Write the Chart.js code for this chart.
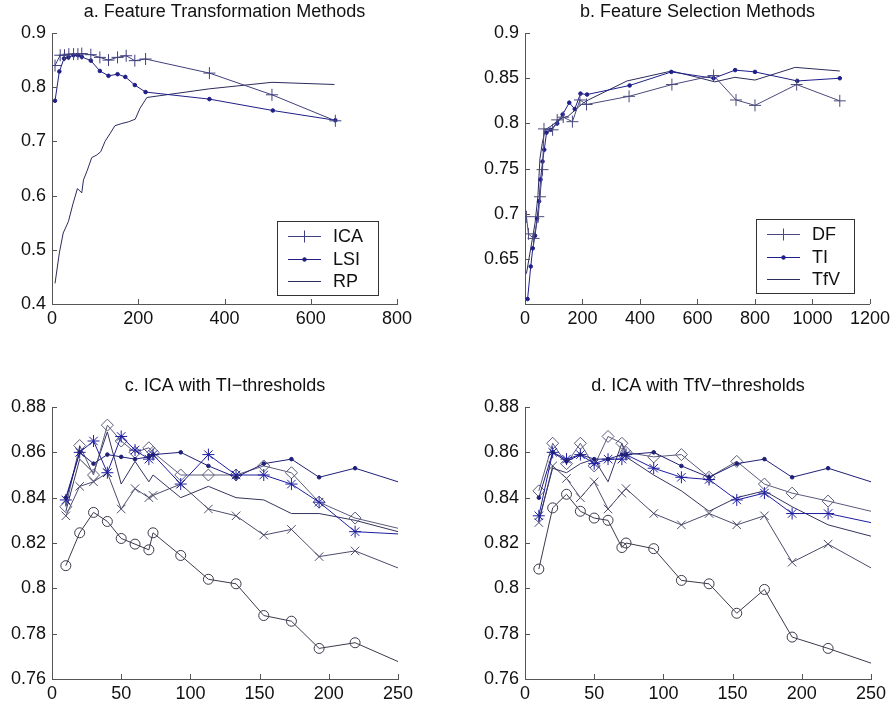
<!DOCTYPE html>
<html lang="en">
<head>
  <meta charset="UTF-8">
  <title>ICA feature experiments</title>
  <script src="https://cdn.jsdelivr.net/npm/chart.js"></script>
</head>
<style>
  body { margin: 0; background: #fff; }
  .wrap { position: relative; width: 894px; height: 711px; }
  canvas { position: absolute; }
</style>
<body>
  <div class="wrap">
    <canvas id="chartA" width="447" height="330" style="left:0;top:0"></canvas>
    <canvas id="chartB" width="447" height="330" style="left:447px;top:0"></canvas>
    <canvas id="chartC" width="447" height="381" style="left:0;top:330px"></canvas>
    <canvas id="chartD" width="447" height="381" style="left:447px;top:330px"></canvas>
  </div>

  <script>
    // a. feature transformation methods
    const icaX = [7, 19, 29, 39, 50, 60, 69, 90, 111, 131, 152, 172, 192, 217, 365, 510, 657];
    const icaY = [0.840, 0.859, 0.859, 0.861, 0.861, 0.861, 0.862, 0.860, 0.855, 0.850, 0.855, 0.858, 0.849, 0.852, 0.826, 0.786, 0.738];
    const lsiX = [7, 17, 28, 38, 50, 60, 69, 90, 111, 131, 152, 170, 192, 217, 365, 512, 657];
    const lsiY = [0.775, 0.829, 0.853, 0.855, 0.859, 0.859, 0.856, 0.849, 0.830, 0.821, 0.824, 0.819, 0.804, 0.791, 0.778, 0.757, 0.739];
    const rpX = [7, 17, 26, 38, 49, 59, 69, 73, 82, 92, 104, 113, 123, 135, 146, 162, 177, 193, 204, 220, 365, 510, 655];
    const rpY = [0.438, 0.494, 0.531, 0.552, 0.586, 0.613, 0.605, 0.629, 0.647, 0.670, 0.675, 0.681, 0.700, 0.715, 0.729, 0.733, 0.736, 0.741, 0.761, 0.781, 0.797, 0.809, 0.805];

    // b. feature selection methods
    const dfX = [5, 12, 30, 46, 52, 61, 66, 96, 112, 133, 165, 191, 214, 362, 511, 656, 734, 800, 945, 1095];
    const dfY = [0.697, 0.678, 0.673, 0.697, 0.719, 0.749, 0.794, 0.793, 0.804, 0.807, 0.802, 0.826, 0.821, 0.830, 0.843, 0.853, 0.826, 0.820, 0.843, 0.825];
    const tiX = [9, 20, 27, 35, 42, 49, 54, 61, 67, 75, 89, 112, 131, 154, 173, 193, 216, 364, 509, 656, 731, 800, 947, 1095];
    const tiY = [0.606, 0.642, 0.662, 0.676, 0.695, 0.714, 0.738, 0.758, 0.771, 0.790, 0.793, 0.800, 0.810, 0.823, 0.816, 0.833, 0.832, 0.842, 0.857, 0.850, 0.859, 0.857, 0.847, 0.850];
    const tfvX = [5, 20, 35, 45, 52, 60, 70, 90, 110, 130, 150, 175, 200, 220, 355, 510, 600, 660, 730, 800, 940, 1095];
    const tfvY = [0.634, 0.662, 0.690, 0.720, 0.761, 0.778, 0.793, 0.797, 0.802, 0.806, 0.808, 0.815, 0.822, 0.826, 0.847, 0.858, 0.851, 0.846, 0.851, 0.848, 0.862, 0.858];

    // c / d. ICA with thresholds (shared x values)
    const thrX = [10, 20, 30, 40, 50, 60, 70, 73, 93, 113, 133, 153, 173, 193, 219, 250];

    const cDot     = [0.840, 0.860, 0.855, 0.859, 0.858, 0.857, 0.858, 0.859, 0.860, 0.854, 0.849, 0.855, 0.857, 0.849, 0.853, 0.847];
    const cDiamond = [0.836, 0.863, 0.850, 0.872, 0.865, 0.860, 0.862, 0.860, 0.850, 0.850, 0.850, 0.854, 0.851, 0.838, 0.831, 0.8265];
    const cStar    = [0.839, 0.860, 0.865, 0.851, 0.867, 0.861, 0.857, 0.859, 0.846, 0.859, 0.850, 0.850, 0.846, 0.838, 0.825, 0.824];
    const cPlain   = [0.834, 0.857, 0.851, 0.869, 0.846, 0.856, 0.847, 0.850, 0.840, 0.845, 0.840, 0.839, 0.833, 0.833, 0.830, 0.825];
    const cCross   = [0.832, 0.845, 0.847, 0.851, 0.835, 0.844, 0.840, 0.841, 0.846, 0.835, 0.832, 0.8235, 0.826, 0.814, 0.8165, 0.809];
    const cCircle  = [0.810, 0.8245, 0.8335, 0.8295, 0.822, 0.8195, 0.817, 0.8245, 0.8145, 0.804, 0.802, 0.788, 0.7855, 0.7735, 0.776, 0.7677];

    const dDot     = [0.840, 0.860, 0.856, 0.859, 0.857, 0.857, 0.859, 0.859, 0.860, 0.854, 0.849, 0.855, 0.857, 0.849, 0.853, 0.847];
    const dDiamond = [0.843, 0.864, 0.855, 0.864, 0.854, 0.867, 0.864, 0.860, 0.858, 0.859, 0.849, 0.856, 0.846, 0.842, 0.8385, 0.834];
    const dStar    = [0.832, 0.860, 0.857, 0.859, 0.855, 0.857, 0.857, 0.859, 0.853, 0.849, 0.848, 0.839, 0.842, 0.833, 0.833, 0.829];
    const dPlain   = [0.830, 0.853, 0.851, 0.855, 0.857, 0.847, 0.864, 0.858, 0.850, 0.843, 0.834, 0.840, 0.843, 0.836, 0.828, 0.823];
    const dCross   = [0.829, 0.854, 0.8485, 0.840, 0.847, 0.835, 0.842, 0.844, 0.833, 0.828, 0.833, 0.828, 0.832, 0.8115, 0.8195, 0.809];
    const dCircle  = [0.8085, 0.8355, 0.8415, 0.834, 0.831, 0.830, 0.818, 0.820, 0.8175, 0.8035, 0.802, 0.789, 0.7995, 0.7785, 0.7735, 0.767];

    const AXIS = '#555';
    const FONT = '"Liberation Sans", Arial, sans-serif';
    Chart.defaults.font.family = FONT;
    Chart.defaults.color = '#111';

    const pts = (xs, ys) => xs.map((x, i) => ({ x: x, y: ys[i] }));

    // matlab style ticks pointing into the axes
    const inTicks = {
      id: 'inTicks',
      afterDraw(chart) {
        const { ctx, chartArea: a, scales: { x, y } } = chart;
        ctx.save();
        ctx.strokeStyle = AXIS;
        ctx.lineWidth = 1;
        ctx.beginPath();
        x.ticks.forEach(t => {
          const px = Math.round(x.getPixelForValue(t.value)) + 0.5;
          ctx.moveTo(px, a.bottom); ctx.lineTo(px, a.bottom - 5);
        });
        y.ticks.forEach(t => {
          const py = Math.round(y.getPixelForValue(t.value)) + 0.5;
          ctx.moveTo(a.left, py); ctx.lineTo(a.left + 5, py);
        });
        ctx.stroke();
        ctx.restore();
      }
    };

    // boxed legend inside the plot
    const boxLegend = {
      id: 'boxLegend',
      afterDatasetsDraw(chart, args, opts) {
        if (!opts.show) return;
        const ctx = chart.ctx;
        const L = opts.left, T = opts.top;
        ctx.save();
        ctx.fillStyle = '#fff';
        ctx.fillRect(L, T, opts.width, opts.height);
        ctx.strokeStyle = '#333';
        ctx.lineWidth = 1;
        ctx.strokeRect(L + 0.5, T + 0.5, opts.width, opts.height);
        chart.data.datasets.forEach((ds, i) => {
          const y = Math.round(T + 15 + i * 22.5) + 0.5;
          ctx.strokeStyle = ds.borderColor;
          ctx.lineWidth = 1;
          ctx.beginPath();
          ctx.moveTo(L + 11, y); ctx.lineTo(L + 44, y);
          ctx.stroke();
          if (ds.markRadius > 0) {
            ctx.fillStyle = ds.pointBackgroundColor;
            Chart.helpers.drawPoint(ctx, { pointStyle: ds.pointStyle, radius: ds.markRadius, rotation: 0, borderWidth: 1 }, L + 27.5, y);
          }
          ctx.fillStyle = '#111';
          ctx.font = '18px ' + FONT;
          ctx.textBaseline = 'middle';
          ctx.fillText(ds.label, L + 56, y + 1);
        });
        ctx.restore();
      }
    };

    function series(label, xs, ys, color, style, r, lastBare) {
      const radii = xs.map((_, i) => (lastBare && i === xs.length - 1) ? 0 : r);
      return {
        label: label,
        data: pts(xs, ys),
        borderColor: color,
        borderWidth: 1,
        pointStyle: style || 'circle',
        pointRadius: radii,
        markRadius: r,
        pointBorderColor: color,
        pointBorderWidth: 1,
        pointBackgroundColor: style === 'circle' && r <= 2 ? color : 'transparent',
        pointHoverRadius: 0,
        tension: 0,
        fill: false
      };
    }

    function makeChart(id, cfg) {
      return new Chart(document.getElementById(id), {
        type: 'line',
        data: { datasets: cfg.datasets },
        plugins: [inTicks, boxLegend],
        options: {
          responsive: false,
          devicePixelRatio: 1,
          animation: false,
          layout: { padding: { left: 0, right: cfg.padRight, top: cfg.padTop, bottom: 0 } },
          plugins: {
            legend: { display: false },
            tooltip: { enabled: false },
            title: {
              display: true,
              text: cfg.title,
              fullSize: false,
              color: '#111',
              font: { size: 18, weight: 'normal', lineHeight: 1.2 },
              padding: { top: 1, bottom: 10.4 }
            },
            boxLegend: cfg.legend || { show: false }
          },
          scales: {
            x: {
              type: 'linear',
              min: cfg.xMin, max: cfg.xMax,
              grid: { display: false, drawTicks: false },
              border: { display: true, color: AXIS, width: 1 },
              ticks: {
                stepSize: cfg.xStep, padding: 4, font: { size: 18 }, color: '#111', maxRotation: 0,
                callback: v => String(v)
              },
              afterFit: s => { s.height = cfg.xAxisH; }
            },
            y: {
              type: 'linear',
              min: cfg.yMin, max: cfg.yMax,
              grid: { display: false, drawTicks: false },
              border: { display: true, color: AXIS, width: 1 },
              ticks: {
                stepSize: cfg.yStep, padding: 6, font: { size: 18 }, color: '#111',
                includeBounds: false,
                callback: v => String(Math.round(v * 1000) / 1000)
              },
              afterFit: s => { s.width = cfg.yAxisW; }
            }
          }
        }
      });
    }

    makeChart('chartA', {
      title: 'a. Feature Transformation Methods',
      padTop: 0, padRight: 50, yAxisW: 52, xAxisH: 26,
      xMin: 0, xMax: 800, xStep: 200, yMin: 0.4, yMax: 0.9, yStep: 0.1,
      legend: { show: true, left: 277, top: 221, width: 101, height: 74 },
      datasets: [
        series('ICA', icaX, icaY, '#3f3f7e', 'cross', 6, false),
        series('LSI', lsiX, lsiY, '#1f1f86', 'circle', 1.8, false),
        series('RP', rpX, rpY, '#2b2b5c', 'circle', 0, false)
      ]
    });

    makeChart('chartB', {
      title: 'b. Feature Selection Methods',
      padTop: 0, padRight: 23, yAxisW: 78, xAxisH: 26,
      xMin: 0, xMax: 1200, xStep: 200, yMin: 0.6005, yMax: 0.9, yStep: 0.05,
      legend: { show: true, left: 309, top: 219, width: 98, height: 74 },
      datasets: [
        series('DF', dfX, dfY, '#4a4a7c', 'cross', 6, false),
        series('TI', tiX, tiY, '#1f1f8c', 'circle', 1.8, false),
        series('TfV', tfvX, tfvY, '#2b2b5c', 'circle', 0, false)
      ]
    });

    function thrSets(dot, diamond, star, plain, cross, circle) {
      return [
        series('dot', thrX, dot, '#1f1f78', 'circle', 1.8, true),
        series('star', thrX, star, '#1e1ea0', 'star', 6, true),
        series('diamond', thrX, diamond, '#5a5a7a', 'rectRot', 6, true),
        series('plain', thrX, plain, '#34345e', 'circle', 0, true),
        series('cross', thrX, cross, '#4c4c6c', 'crossRot', 6, true),
        series('circle', thrX, circle, '#3a3a4c', 'circle', 5, true)
      ];
    }

    makeChart('chartC', {
      title: 'c. ICA with TI\u2212thresholds',
      padTop: 44, padRight: 49, yAxisW: 52, xAxisH: 32,
      xMin: 0, xMax: 250, xStep: 50, yMin: 0.76, yMax: 0.88, yStep: 0.02,
      datasets: thrSets(cDot, cDiamond, cStar, cPlain, cCross, cCircle)
    });

    makeChart('chartD', {
      title: 'd. ICA with TfV\u2212thresholds',
      padTop: 44, padRight: 23, yAxisW: 78, xAxisH: 32,
      xMin: 0, xMax: 250, xStep: 50, yMin: 0.76, yMax: 0.88, yStep: 0.02,
      datasets: thrSets(dDot, dDiamond, dStar, dPlain, dCross, dCircle)
    });
  </script>
</body>
</html>
